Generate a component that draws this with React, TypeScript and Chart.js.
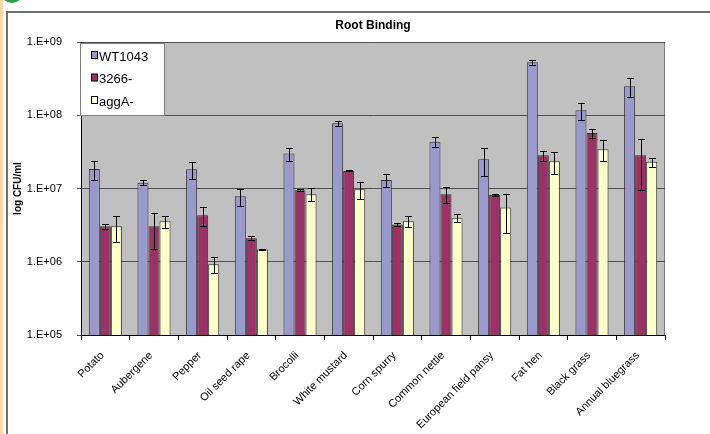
import React, { useEffect, useRef } from "react";
import { Chart, registerables } from "chart.js";

Chart.register(...registerables);

const categories = [
  "Potato", "Aubergene", "Pepper", "Oil seed rape", "Brocolli", "White mustard",
  "Corn spurry", "Common nettle", "European field pansy", "Fat hen", "Black grass", "Annual bluegrass",
];

const seriesNames = ["WT1043", "3266-", "aggA-"];

const wt1043 = [1.85e7, 1.2e7, 1.83e7, 7.85e6, 3.0e7, 7.77e7, 1.31e7, 4.36e7, 2.51e7, 5.28e8, 1.17e8, 2.48e8];
const wt1043Err = [5.5e6, 1.0e6, 4.8e6, 2.1e6, 6.0e6, 6.5e6, 2.7e6, 7.0e6, 1.05e7, 3.6e7, 3.2e7, 7.0e7];

const m3266 = [3.06e6, 3.06e6, 4.32e6, 2.1e6, 9.46e6, 1.74e7, 3.22e6, 8.36e6, 8.18e6, 2.84e7, 5.74e7, 2.84e7];
const m3266Err = [2.5e5, 1.55e6, 1.2e6, 1.3e5, 3.0e5, 3.0e5, 1.7e5, 2.0e6, 2.0e5, 4.5e6, 8.0e6, 1.9e7];

const aggA = [3.06e6, 3.58e6, 9.27e5, 1.47e6, 8.36e6, 9.8e6, 3.58e6, 3.94e6, 5.5e6, 2.36e7, 3.44e7, 2.31e7];
const aggAErr = [1.2e6, 6.5e5, 2.2e5, 3.0e4, 1.7e6, 2.5e6, 6.0e5, 5.0e5, 3.0e6, 8.0e6, 1.1e7, 3.2e6];

const yTicks = [1e5, 1e6, 1e7, 1e8, 1e9];

const colors = ["#9999CC", "#993366", "#FFFFCC"];
const errors = [wt1043Err, m3266Err, aggAErr];

function fmtExp(v: number) {
  const e = Math.round(Math.log10(v));
  return "1.E+" + (e < 10 ? "0" + e : "" + e);
}

const framePlugin = {
  id: "frame",
  beforeDraw(chart: any) {
    const ctx = chart.ctx;
    const { left, top, right, bottom } = chart.chartArea;
    ctx.save();
    ctx.fillStyle = "#ffffff";
    ctx.fillRect(0, 0, chart.width, chart.height);
    ctx.fillStyle = "#FFD6A5";
    ctx.fillRect(0, 0, 3, chart.height);
    ctx.fillStyle = "#2E9E4A";
    ctx.beginPath();
    ctx.arc(12, -8, 11, 0, Math.PI * 2);
    ctx.fill();
    ctx.strokeStyle = "#707070";
    ctx.lineWidth = 2;
    ctx.beginPath();
    ctx.moveTo(7, chart.height + 2);
    ctx.lineTo(7, 12);
    ctx.lineTo(chart.width + 2, 12);
    ctx.stroke();
    ctx.fillStyle = "#C0C0C0";
    ctx.fillRect(left, top, right - left, bottom - top);
    ctx.strokeStyle = "#808080";
    ctx.lineWidth = 1;
    ctx.strokeRect(left + 0.5, top + 0.5, right - left - 1, bottom - top);
    ctx.fillStyle = "#000";
    ctx.font = "bold 12px 'Liberation Sans', Arial, sans-serif";
    ctx.textAlign = "center";
    ctx.textBaseline = "middle";
    ctx.fillText("Root Binding", (left + right) / 2, 26);
    ctx.restore();
  },
  afterDatasetsDraw(chart: any) {
    const ctx = chart.ctx;
    const yScale = chart.scales.y;
    ctx.save();
    ctx.strokeStyle = "#000";
    ctx.lineWidth = 1;
    chart.data.datasets.forEach((ds: any, di: number) => {
      const meta = chart.getDatasetMeta(di);
      const err = errors[di];
      meta.data.forEach((bar: any, i: number) => {
        const v = ds.data[i];
        const e = err[i];
        const x = Math.round(bar.x) + 0.5;
        const yt = Math.round(yScale.getPixelForValue(v + e)) + 0.5;
        const yb = Math.round(yScale.getPixelForValue(Math.max(v - e, 1e5))) + 0.5;
        ctx.beginPath();
        ctx.moveTo(x, yt);
        ctx.lineTo(x, yb);
        ctx.moveTo(x - 3.5, yt);
        ctx.lineTo(x + 3.5, yt);
        ctx.moveTo(x - 3.5, yb);
        ctx.lineTo(x + 3.5, yb);
        ctx.stroke();
      });
    });
    ctx.restore();
  },
  afterDraw(chart: any) {
    const ctx = chart.ctx;
    const { left, top } = chart.chartArea;
    ctx.save();
    const lx = left - 1, ly = top + 1, lw = 84, lh = 72;
    ctx.fillStyle = "#ffffff";
    ctx.fillRect(lx, ly, lw, lh);
    ctx.strokeStyle = "#808080";
    ctx.lineWidth = 1;
    ctx.strokeRect(lx + 0.5, ly + 0.5, lw, lh);
    ctx.font = "13px 'Liberation Sans', Arial, sans-serif";
    ctx.textAlign = "left";
    ctx.textBaseline = "middle";
    chart.data.datasets.forEach((ds: any, i: number) => {
      const cy = ly + 14 + i * 22.5;
      ctx.fillStyle = ds.backgroundColor;
      ctx.fillRect(lx + 11.5, cy - 5.5, 6, 7);
      ctx.strokeStyle = "#000";
      ctx.strokeRect(lx + 11.5, cy - 5.5, 6, 7);
      ctx.fillStyle = "#000";
      ctx.fillText(ds.label, lx + 19, cy);
    });
    ctx.restore();
  },
};

export default function App() {
  const ref = useRef<HTMLCanvasElement>(null);
  useEffect(() => {
    if (!ref.current) return;
    const values = [wt1043, m3266, aggA];
    const chart = new Chart(ref.current, {
      type: "bar",
      data: {
        labels: categories,
        datasets: seriesNames.map((name, i) => ({
          label: name,
          data: values[i],
          backgroundColor: colors[i],
          borderColor: "#333333",
          borderWidth: 1,
          categoryPercentage: 0.68,
          barPercentage: 1.0,
        })),
      },
      options: {
        responsive: false,
        animation: false,
        devicePixelRatio: 1,
        layout: { padding: { left: 8, right: 45, top: 42, bottom: 0 } },
        plugins: {
          legend: { display: false },
          title: { display: false },
          tooltip: { enabled: false },
        },
        scales: {
          x: {
            afterFit: (s: any) => { s.height = 99; },
            grid: {
              offset: true,
              drawOnChartArea: false,
              drawTicks: true,
              tickLength: 5,
              color: "#000",
            },
            border: { color: "#000", width: 1 },
            ticks: {
              autoSkip: false,
              maxRotation: 45,
              minRotation: 45,
              labelOffset: -3,
              padding: 9,
              color: "#000",
              font: { family: "'Liberation Sans', Arial, sans-serif", size: 11 },
            },
          },
          y: {
            type: "logarithmic",
            min: 1e5,
            max: 1e9,
            afterFit: (s: any) => { s.width = 73; },
            afterBuildTicks: (s: any) => { s.ticks = yTicks.map((v) => ({ value: v })); },
            grid: { color: "#505050", tickLength: 4, lineWidth: 1 },
            border: { color: "#000", width: 1 },
            ticks: {
              padding: 15,
              color: "#000",
              font: { family: "'Liberation Sans', Arial, sans-serif", size: 11 },
              callback: (v: any) => fmtExp(Number(v)),
            },
            title: {
              display: true,
              text: "log CFU/ml",
              color: "#000",
              font: { family: "'Liberation Sans', Arial, sans-serif", size: 10, weight: "bold" },
              padding: { top: 4, bottom: 0 },
            },
          },
        },
      },
      plugins: [framePlugin],
    });
    return () => chart.destroy();
  }, []);
  return (
    <div style={{ position: "absolute", left: 0, top: 0, width: 710, height: 434 }}>
      <canvas ref={ref} width={710} height={434} />
    </div>
  );
}
